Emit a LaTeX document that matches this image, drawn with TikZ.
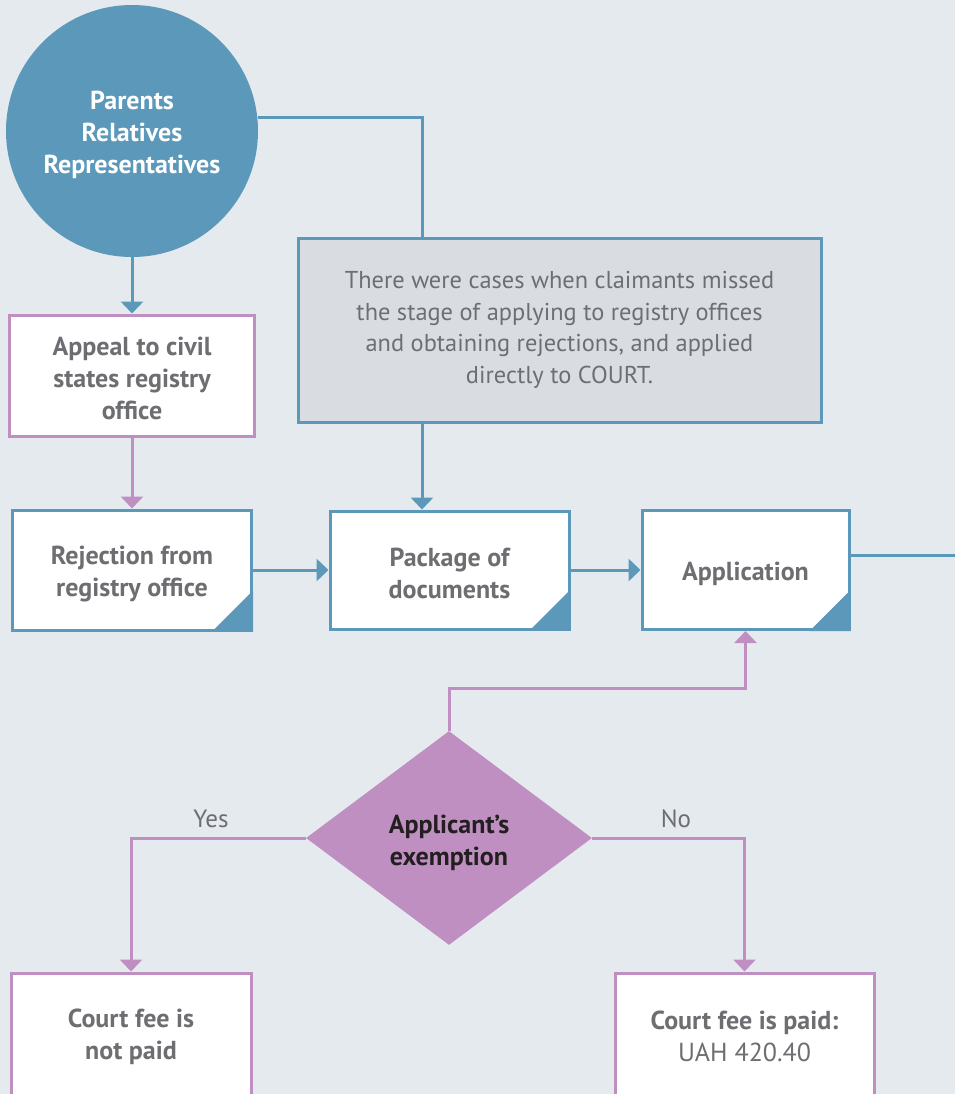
\documentclass[tikz,border=0pt]{standalone}
\usepackage{fontspec}
\setmainfont{PT Sans}
\usetikzlibrary{shapes.geometric,arrows.meta,calc}
\definecolor{bgc}{RGB}{229,234,239}
\definecolor{cblue}{RGB}{91,152,186}
\definecolor{cpurp}{RGB}{191,143,194}
\definecolor{notefill}{RGB}{217,221,226}
\definecolor{tgray}{RGB}{109,110,113}
\definecolor{tdark}{RGB}{35,31,32}
\begin{document}
\begin{tikzpicture}[x=0.5pt,y=-0.5pt,
  box/.style={rectangle, fill=white, line width=1.5pt, align=center, inner sep=0pt,
    font=\bfseries\fontsize{13}{16}\selectfont, text=tgray},
  bbox/.style={box, draw=cblue},
  pbox/.style={box, draw=cpurp},
  notebox/.style={rectangle, fill=notefill, draw=cblue, line width=1.5pt, align=center,
    inner sep=0pt, font=\fontsize{12.2}{15.75}\selectfont, text=tgray},
  startc/.style={circle, fill=cblue, inner sep=0pt, minimum size=126pt, align=center,
    text=white, font=\bfseries\fontsize{13}{16}\selectfont},
  decision/.style={diamond, fill=cpurp, inner sep=0pt, minimum width=143pt, minimum height=107pt,
    align=center, text=tdark, font=\bfseries\fontsize{13}{16}\selectfont},
  bline/.style={cblue, line width=1.5pt},
  pline/.style={cpurp, line width=1.5pt},
  barrow/.style={bline, -{Triangle[width=11pt,length=6pt]}},
  parrow/.style={pline, -{Triangle[width=11pt,length=6pt]}},
  corner/.style={fill=cblue},
  lab/.style={text=tgray, font=\fontsize{12.5}{14}\selectfont}
]
\useasboundingbox (0,0) rectangle (955,1094);
\fill[bgc] (0,0) rectangle (955,1094);
\clip (0,0) rectangle (955,1094);

\node[startc] (circ) at (132,131) {\rule{0pt}{13pt}Parents\\Relatives\\Representatives};
\node[notebox, minimum width=261.5pt, minimum height=92pt] (note) at (559.5,330)
  {There were cases when claimants missed\\the stage of applying to registry offices\\and obtaining rejections, and applied\\directly to COURT.};
\node[pbox, minimum width=122.5pt, minimum height=60.5pt] (appeal) at (132,375.5) {\rule{0pt}{12.5pt}Appeal to civil\\states registry\\office};
\node[bbox, minimum width=119.5pt, minimum height=60pt] (reject) at (132,570) {\rule{0pt}{13pt}Rejection from\\registry office};
\node[bbox, minimum width=119.5pt, minimum height=59pt] (pkg) at (449.5,570) {\rule{0pt}{13pt}Package of\\documents};
\node[bbox, minimum width=103.5pt, minimum height=59.5pt] (app) at (745.5,570) {\rule{0pt}{13pt}Application};
\node[decision] (dia) at (449,838) {\rule{0pt}{14pt}Applicant’s\\exemption};
\node[pbox, minimum width=120pt, minimum height=63.5pt] (notpaid) at (131,1036.5) {Court fee is\\not paid};
\node[pbox, minimum width=129.5pt, minimum height=63.5pt] (paid) at (744.5,1036.5) {Court fee is paid:\\\mdseries UAH 420.40};

% corner marks
\foreach \n in {reject,pkg,app}
  \fill[corner] (\n.south east) -- ++(-41,0) -- ++(41,-41) -- cycle;

\coordinate (nt) at ([xshift=-68.75pt]note.north);
\coordinate (nb) at ([xshift=-68.75pt]note.south);
\coordinate (exit) at (955,555);

\draw[bline] (circ.6.4) -| (nt);
\draw[barrow] (circ.south) -- (appeal.north);
\draw[barrow] (nb) -- (nb |- pkg.north);
\draw[parrow] (appeal.south) -- (reject.north);
\draw[barrow] (reject.east) -- (pkg.west);
\draw[barrow] (pkg.east) -- (app.west);
\draw[bline] (app.east |- exit) -- (exit);
\draw[parrow] (dia.north) -- ++(0,-42) -| (app.south);
\draw[parrow] (dia.west) -| (notpaid.north);
\draw[parrow] (dia.east) -| (paid.north);
\node[lab] (yes) at (211,819) {Yes};
\node[lab] (no) at (676,819) {No};
\end{tikzpicture}
\end{document}
